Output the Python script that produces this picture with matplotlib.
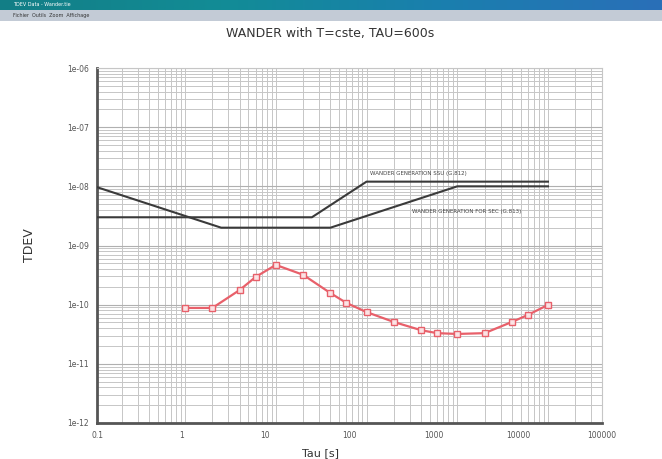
import numpy as np
import matplotlib
matplotlib.use("Agg")
import matplotlib.pyplot as plt
from matplotlib.ticker import LogLocator, FixedLocator, FixedFormatter, NullFormatter
from matplotlib.colors import LinearSegmentedColormap

# ---- data ----
tau_meas = [1, 2, 4, 6, 10, 20, 40, 60, 100, 200, 400, 600, 1000, 2000, 4000, 6000, 10000]
tdev_meas = [8.8e-11, 8.8e-11, 1.77e-10, 2.94e-10, 4.7e-10, 3.2e-10, 1.57e-10, 1.07e-10,
             7.5e-11, 5.1e-11, 3.7e-11, 3.3e-11, 3.2e-11, 3.3e-11, 5.1e-11, 6.7e-11, 9.9e-11]

mask_a_tau = [0.1, 2.5, 40, 1000, 10000]
mask_a_tdev = [1.0e-8, 2.0e-9, 2.0e-9, 1.0e-8, 1.0e-8]
mask_b_tau = [0.1, 25, 100, 10000]
mask_b_tdev = [3.0e-9, 3.0e-9, 1.2e-8, 1.2e-8]

label_a = "WANDER GENERATION SSU (G.812)"
label_b = "WANDER GENERATION FOR SEC (G.813)"

x_tick_labels = ["0.1", "1", "10", "100", "1000", "10000", "100000"]
y_ticks = [1e-12, 1e-11, 1e-10, 1e-9, 1e-8, 1e-7, 1e-6]
y_tick_labels = ["1e-12", "1e-11", "1e-10", "1e-09", "1e-08", "1e-07", "1e-06"]

title = "WANDER with T=cste, TAU=600s"

# ---- figure ----
W, H = 662, 459
fig = plt.figure(figsize=(W / 100, H / 100), dpi=100)
fig.patch.set_facecolor("white")

# window title bar and menu bar
grad = np.linspace(0, 1, 256).reshape(1, -1)
bar_ax = fig.add_axes([0, 1 - 10 / H, 1, 10 / H])
cmap = LinearSegmentedColormap.from_list("tb", ["#127e86", "#128c96", "#1a7fae", "#2a6fb8"])
bar_ax.imshow(grad, aspect="auto", cmap=cmap, extent=[0, 1, 0, 1])
bar_ax.set_axis_off()
bar_ax.text(0.02, 0.5, "TDEV Data - Wander.tie", color="white", fontsize=3.5,
            va="center", ha="left", transform=bar_ax.transAxes)
menu_ax = fig.add_axes([0, 1 - 21 / H, 1, 11 / H])
menu_ax.set_facecolor("#c3cbd6")
menu_ax.set_xticks([]); menu_ax.set_yticks([])
for s in menu_ax.spines.values():
    s.set_visible(False)
menu_ax.text(0.02, 0.5, "Fichier  Outils  Zoom  Affichage", color="#333333", fontsize=3.5,
             va="center", ha="left", transform=menu_ax.transAxes)

ax = fig.add_axes([97 / W, 1 - 423 / H, 505 / W, 355 / H])
ax.set_xscale("log")
ax.set_yscale("log")
xlo, xhi = 0.107, 3.94e4
ax.set_xlim(xlo, xhi)
ax.set_ylim(1e-12, 1e-6)

# grid (true log positions)
ax.xaxis.set_minor_locator(LogLocator(base=10, subs=np.arange(1, 10), numticks=50))
ax.yaxis.set_minor_locator(LogLocator(base=10, subs=np.arange(1, 10), numticks=50))
ax.xaxis.set_minor_formatter(NullFormatter())
ax.yaxis.set_minor_formatter(NullFormatter())
ax.grid(which="minor", color="#c6c6c6", lw=0.7)
ax.grid(which="major", axis="y", color="#b0b0b0", lw=0.8)
ax.grid(which="major", axis="x", visible=False)

# labels evenly spaced along the axis as in the software
xt = np.logspace(np.log10(xlo), np.log10(xhi), len(x_tick_labels))
ax.xaxis.set_major_locator(FixedLocator(xt))
ax.xaxis.set_major_formatter(FixedFormatter(x_tick_labels))
ax.yaxis.set_major_locator(FixedLocator(y_ticks))
ax.yaxis.set_major_formatter(FixedFormatter(y_tick_labels))
ax.tick_params(which="both", length=0, labelsize=5.5, labelcolor="#555555", pad=6)
ax.set_axisbelow(True)

for side in ["left", "bottom"]:
    ax.spines[side].set_color("#555555")
    ax.spines[side].set_linewidth(2)
for side in ["top", "right"]:
    ax.spines[side].set_color("#c6c6c6")
    ax.spines[side].set_linewidth(0.8)

ax.plot(mask_a_tau, mask_a_tdev, color="#3a3a3a", lw=1.5, zorder=3)
ax.plot(mask_b_tau, mask_b_tdev, color="#3a3a3a", lw=1.5, zorder=3)
ax.text(110, 1.5e-8, label_a, fontsize=4, color="#444444", ha="left", va="bottom")
ax.text(316, 3.7e-9, label_b, fontsize=4, color="#444444", ha="left", va="center")

ax.plot(tau_meas, tdev_meas, color="#e8606a", lw=1.6, marker="s", ms=4.5,
        mfc="#fbe3e5", mec="#e8606a", mew=1.0, zorder=4)

ax.set_xlabel("Tau [s]", fontsize=8, color="#333333")
ax.xaxis.set_label_coords((320 - 97) / 505, -0.07)
ax.set_ylabel("TDEV", fontsize=9, color="#333333")
ax.yaxis.set_label_coords(-0.12, 0.5)
fig.text(330 / W, 1 - 33 / H, title, fontsize=9, color="#333333", ha="center", va="center")

fig.savefig("out.png", dpi=100)
